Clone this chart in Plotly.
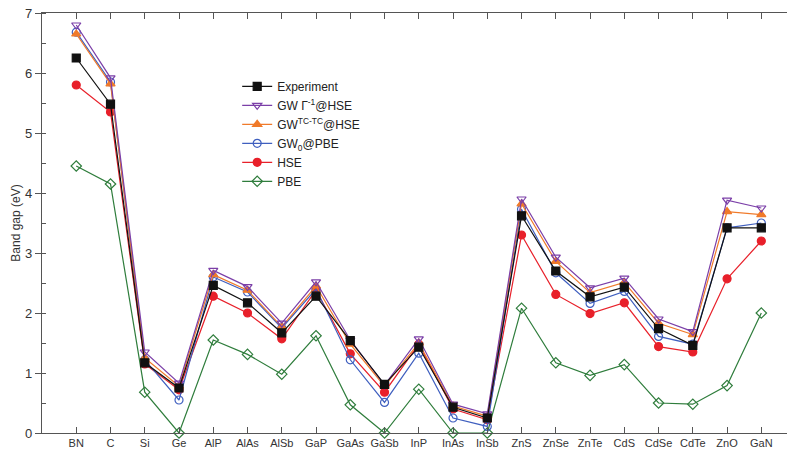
import plotly.graph_objects as go

materials = ["BN", "C", "Si", "Ge", "AlP", "AlAs", "AlSb", "GaP", "GaAs", "GaSb", "InP",
             "InAs", "InSb", "ZnS", "ZnSe", "ZnTe", "CdS", "CdSe", "CdTe", "ZnO", "GaN"]

experiment = [6.25, 5.48, 1.17, 0.75, 2.46, 2.17, 1.67, 2.28, 1.54, 0.81, 1.43,
              0.43, 0.25, 3.62, 2.70, 2.27, 2.43, 1.74, 1.46, 3.42, 3.42]
gw_gamma = [6.80, 5.92, 1.35, 0.83, 2.71, 2.44, 1.83, 2.52, 1.55, 0.80, 1.57,
            0.48, 0.32, 3.90, 2.93, 2.42, 2.58, 1.90, 1.69, 3.88, 3.75]
gw_tctc = [6.65, 5.82, 1.25, 0.78, 2.64, 2.38, 1.77, 2.45, 1.48, 0.78, 1.50,
           0.45, 0.28, 3.82, 2.86, 2.34, 2.51, 1.83, 1.64, 3.69, 3.64]
gw0_pbe = [6.68, 5.85, 1.22, 0.55, 2.60, 2.35, 1.75, 2.40, 1.22, 0.51, 1.33,
           0.25, 0.11, 3.73, 2.67, 2.16, 2.36, 1.61, 1.48, 3.42, 3.50]
hse = [5.80, 5.35, 1.15, 0.72, 2.28, 2.00, 1.57, 2.38, 1.32, 0.68, 1.48,
       0.40, 0.22, 3.30, 2.31, 1.99, 2.17, 1.44, 1.35, 2.57, 3.20]
pbe = [4.45, 4.15, 0.68, 0.00, 1.55, 1.31, 0.98, 1.62, 0.47, 0.00, 0.73,
       0.00, 0.00, 2.08, 1.17, 0.96, 1.14, 0.50, 0.48, 0.79, 2.00]

series = [
    # name, values, color, symbol, rank
    ("PBE", pbe, "#2f7d3c", "diamond-open", 6),
    ("HSE", hse, "#e8202a", "circle", 5),
    ("GW<sub>0</sub>@PBE", gw0_pbe, "#3f5fbf", "circle-open", 4),
    ("GW<sup>TC-TC</sup>@HSE", gw_tctc, "#f07a2a", "triangle-up", 3),
    ("GW Γ<sup>-1</sup>@HSE", gw_gamma, "#7b3fa8", "triangle-down-open", 2),
    ("Experiment", experiment, "#111111", "square", 1),
]

fig = go.Figure()
for name, vals, color, sym, rank in series:
    fig.add_trace(go.Scatter(
        x=materials, y=vals, name=name, mode="lines+markers",
        line=dict(color=color, width=1.2),
        marker=dict(symbol=sym, size=8, color=color,
                    line=dict(color=color, width=1.2)),
        legendrank=rank, cliponaxis=False,
    ))

fig.update_layout(
    width=787, height=450,
    margin=dict(l=42, r=0, t=13, b=17),
    paper_bgcolor="white", plot_bgcolor="white",
    font=dict(family="Liberation Sans, Arial, sans-serif", size=12, color="#333333"),
    showlegend=True,
    legend=dict(x=0.262, y=0.86, xanchor="left", yanchor="top",
                bgcolor="rgba(255,255,255,0)", font=dict(size=12, color="#222222"),
                tracegroupgap=0, itemwidth=30),
)
fig.update_xaxes(
    type="category", range=[-1, 20.75], showgrid=False, zeroline=False,
    showline=True, linecolor="#555555", linewidth=1.2, mirror="ticks",
    ticks="inside", ticklen=6, tickcolor="#555555", automargin=False,
    tickfont=dict(size=11, color="#333333"),
)
fig.update_yaxes(
    range=[0, 7], showgrid=False, zeroline=False, automargin=False,
    showline=True, linecolor="#555555", linewidth=1.2,
    ticks="outside", ticklen=6, tickcolor="#555555", dtick=1,
    minor=dict(ticks="inside", dtick=0.5, ticklen=4, tickcolor="#555555"),
    tickfont=dict(size=13, color="#333333"),
    title=dict(text="Band gap (eV)", font=dict(size=12, color="#333333"), standoff=1),
)
fig.write_html("out.html", config={"displayModeBar": False},
               post_script="document.body.style.margin='0';document.body.style.overflow='hidden';")
